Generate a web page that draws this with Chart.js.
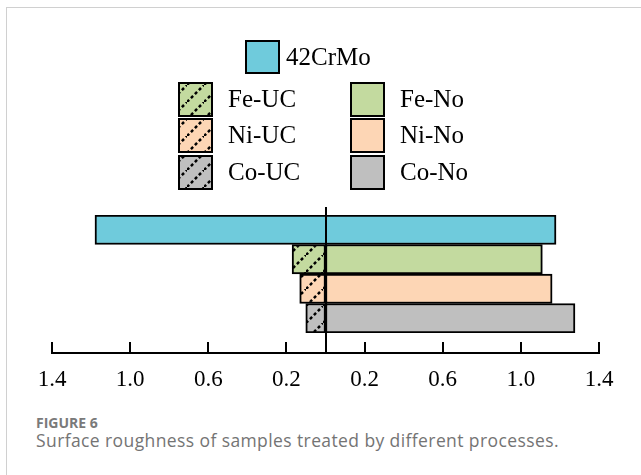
<!DOCTYPE html>
<html>
<head>
<meta charset="utf-8">
<script src="https://cdn.jsdelivr.net/npm/chart.js@4/dist/chart.umd.min.js"></script>
<style>
    body { margin: 0; background: #fff; width: 641px; height: 475px; overflow: hidden; position: relative; }
    .frame { position: absolute; left: 6px; top: 7px; right: 0; bottom: 0; border-left: 1px solid #d0d0d0; border-top: 1px solid #d0d0d0; }
    #chart { position: absolute; left: 0; top: 0; }
    .fig-label { position: absolute; left: 36px; top: 413px; font: bold 14px "Open Sans", sans-serif; color: #7a7a7a; line-height: 19px; }
    .fig-caption { position: absolute; left: 36px; top: 428px; font: 17.5px "Open Sans", sans-serif; letter-spacing: 0.4px; color: #747474; line-height: 24px; }
</style>
</head>
<body>
<div class="frame"></div>
<canvas id="chart" width="641" height="400"></canvas>
<div class="fig-label">FIGURE 6</div>
<div class="fig-caption">Surface roughness of samples treated by different processes.</div>
<script>
// Chart data
const samples = ['42CrMo', 'Fe', 'Ni', 'Co'];
const baseLabel = '42CrMo';
const baseValue = 1.18;
const ucLabels = ['Fe-UC', 'Ni-UC', 'Co-UC'];
const ucValues = [0.171, 0.132, 0.101];
const noLabels = ['Fe-No', 'Ni-No', 'Co-No'];
const noValues = [1.11, 1.16, 1.277];
const xTicks = [-1.4, -1.0, -0.6, -0.2, 0, 0.2, 0.6, 1.0, 1.4];

const baseColor = '#6fcbdc';
const fillColors = ['#c3da9f', '#fdd6b5', '#bfbfbf'];
const SERIF = '"Liberation Serif", "Times New Roman", serif';

document.addEventListener('DOMContentLoaded', function() {
    initializeChart();
});

function makeHatch(color) {
    const size = 17;
    const c = document.createElement('canvas');
    c.width = size;
    c.height = size;
    const ctx = c.getContext('2d');
    ctx.fillStyle = color;
    ctx.fillRect(0, 0, size, size);
    ctx.strokeStyle = '#000';
    ctx.lineWidth = 2.5;
    ctx.setLineDash([3, 2.6]);
    ctx.beginPath();
    ctx.moveTo(0, size);
    ctx.lineTo(size, 0);
    ctx.stroke();
    return ctx.createPattern(c, 'repeat');
}

// axis line with inward ticks, and the centre line
const axisPlugin = {
    id: 'axisLines',
    afterDatasetsDraw(chart) {
        const ctx = chart.ctx;
        const x = chart.scales.x;
        const area = chart.chartArea;
        const axisY = area.bottom + 20;
        ctx.save();
        ctx.strokeStyle = '#000';
        ctx.lineWidth = 2;
        ctx.beginPath();
        ctx.moveTo(area.left - 1, axisY);
        ctx.lineTo(area.right + 1, axisY);
        xTicks.forEach(v => {
            const px = Math.round(x.getPixelForValue(v));
            ctx.moveTo(px, axisY);
            ctx.lineTo(px, axisY - 11);
        });
        const zero = Math.round(x.getPixelForValue(0));
        ctx.moveTo(zero, area.top - 8);
        ctx.lineTo(zero, axisY);
        ctx.stroke();
        ctx.restore();
    }
};

// legend: one entry on top, then UC / No columns
const legendPlugin = {
    id: 'gridLegend',
    afterDraw(chart) {
        const ctx = chart.ctx;
        const sets = chart.data.datasets;
        ctx.save();
        ctx.font = '25px ' + SERIF;
        ctx.textBaseline = 'middle';

        const drawItem = (ds, bx, by, w, h, tx) => {
            ctx.fillStyle = ds.backgroundColor;
            ctx.fillRect(bx, by, w, h);
            ctx.strokeStyle = '#000';
            ctx.lineWidth = 2;
            ctx.strokeRect(bx, by, w, h);
            ctx.fillStyle = '#000';
            ctx.fillText(ds.label, tx, by + h / 2 + 1);
        };

        drawItem(sets[0], 246, 41, 33, 32, 286);
        const rows = [83, 119, 156];
        for (let i = 0; i < 3; i++) {
            drawItem(sets[1 + i], 179, rows[i], 33, 33, 228);
            drawItem(sets[4 + i], 351, rows[i], 33, 33, 400);
        }
        ctx.restore();
    }
};

function initializeChart() {
    const barStyle = {
        borderColor: '#000',
        borderWidth: 2,
        borderSkipped: false,
        barPercentage: 1,
        categoryPercentage: 1,
        grouped: false
    };
    const datasets = [];
    datasets.push({
        label: baseLabel,
        data: [{ y: samples[0], x: [-baseValue, baseValue] }],
        backgroundColor: baseColor,
        ...barStyle
    });
    ucLabels.forEach((label, i) => {
        datasets.push({
            label: label,
            data: [{ y: samples[i + 1], x: -ucValues[i] }],
            backgroundColor: makeHatch(fillColors[i]),
            ...barStyle
        });
    });
    noLabels.forEach((label, i) => {
        datasets.push({
            label: label,
            data: [{ y: samples[i + 1], x: noValues[i] }],
            backgroundColor: fillColors[i],
            ...barStyle
        });
    });

    new Chart(document.getElementById('chart'), {
        type: 'bar',
        data: { labels: samples, datasets: datasets },
        options: {
            indexAxis: 'y',
            responsive: false,
            animation: false,
            devicePixelRatio: 1,
            layout: { padding: { left: 52, right: 42, top: 215, bottom: 0 } },
            plugins: {
                legend: { display: false },
                tooltip: { enabled: false }
            },
            scales: {
                x: {
                    type: 'linear',
                    min: -1.4,
                    max: 1.4,
                    afterBuildTicks: scale => {
                        scale.ticks = xTicks.map(v => ({ value: v }));
                    },
                    afterFit: scale => {
                        scale.height = 67;
                        scale.paddingLeft = 0;
                        scale.paddingRight = 0;
                    },
                    grid: { display: false, drawTicks: false },
                    border: { display: false },
                    ticks: {
                        padding: 33,
                        color: '#000',
                        font: { family: SERIF, size: 23 },
                        maxRotation: 0,
                        autoSkip: false,
                        callback: value => value === 0 ? '' : Math.abs(value).toFixed(1)
                    }
                },
                y: {
                    type: 'category',
                    display: false,
                    offset: true
                }
            }
        },
        plugins: [axisPlugin, legendPlugin]
    });
}
</script>
</body>
</html>
